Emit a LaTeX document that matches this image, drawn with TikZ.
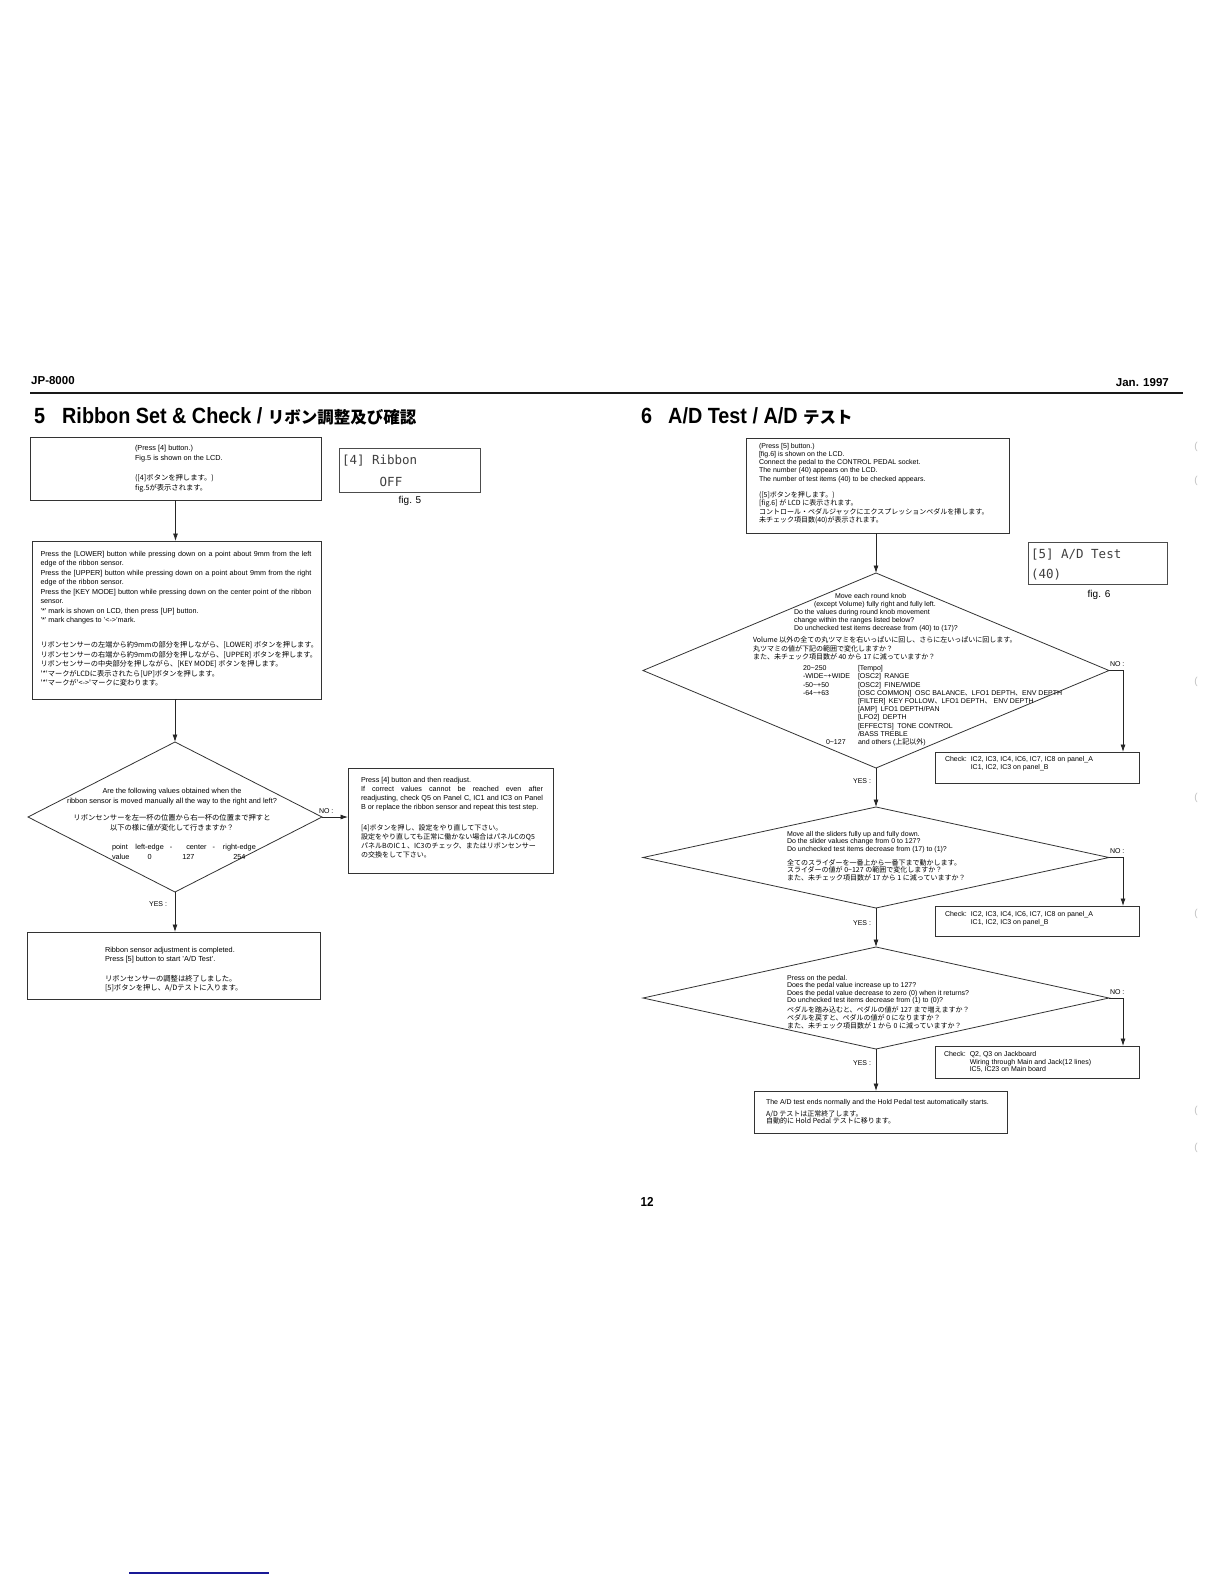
\documentclass[tikz,border=0pt]{standalone}
\usepackage{fontspec}
\setmainfont{Liberation Sans}
\newfontfamily\jpf{Noto Sans CJK JP}
\newfontfamily\hdfont{Liberation Sans}[FakeStretch=0.9]
\newfontfamily\lcdfont{DejaVu Sans Mono}
\usetikzlibrary{shapes.geometric,arrows.meta}
\begin{document}
\begin{tikzpicture}[x=1pt,y=-1pt,
  box/.style={draw=black!80, line width=0.8pt, inner sep=0pt, outer sep=0pt, anchor=north west},
  dia/.style={diamond, draw=black!80, line width=0.8pt, inner sep=0pt, outer sep=0pt},
  lcdbox/.style={draw=black!70, line width=0.8pt, inner sep=0pt, outer sep=0pt, anchor=north west},
  txtL/.style={inner sep=0pt, outer sep=0pt, anchor=north west, align=left, font=\fontsize{7.3}{10}\selectfont},
  txtR/.style={inner sep=0pt, outer sep=0pt, anchor=north west, align=left, font=\fontsize{7}{8.3}\selectfont},
  lbl/.style={inner sep=0pt, outer sep=0pt, font=\fontsize{7}{8}\selectfont},
  lcdtxt/.style={inner sep=0pt, outer sep=0pt, anchor=west, text=black!75, font=\lcdfont\fontsize{12.5}{13}\selectfont},
  ttl/.style={anchor=west, inner sep=0pt, font=\hdfont\bfseries\fontsize{22}{24}\selectfont},
  conn/.style={draw=black!85, line width=0.8pt},
  arr/.style={conn, -{Latex[length=7.5pt,width=5pt]}},
  scanmark/.style={inner sep=0pt, text=black!25, font=\fontsize{10}{10}\selectfont}
]
\useasboundingbox (0,0) rectangle (1224,1584);
\fill[white] (0,0) rectangle (1224,1584);

% ---------- header ----------
\node[anchor=west, inner sep=0pt, font=\bfseries\fontsize{11.5}{12}\selectfont] (hdL) at (31,381) {JP-8000};
\node[anchor=east, inner sep=0pt, font=\bfseries\fontsize{11.5}{12}\selectfont] (hdR) at (1169,383) {Jan. 1997};
\coordinate (ruleL) at (30,393);
\coordinate (ruleR) at (1183,393);
\draw[line width=2.6pt, black!90] (ruleL) -- (ruleR);

\node[ttl] (t5n) at (34,416) {5};
\node[ttl] (t5) at (62,416) {Ribbon Set \& Check / {\jpf\bfseries\fontsize{16.5}{18}\selectfont リボン調整及び確認}};
\node[ttl] (t6n) at (641,416) {6};
\node[ttl] (t6) at (668,416) {A/D Test / A/D {\jpf\bfseries\fontsize{16.5}{18}\selectfont テスト}};

% ---------- left column ----------
\node[box, minimum width=291, minimum height=63] (boxA) at (30,437) {};
\node[txtL] (tA) at (135,445) {(Press [4] button.)\\Fig.5 is shown on the LCD.\\[10pt]{\jpf ([4]ボタンを押します。)}\\{\jpf fig.5が表示されます。}};

\node[lcdbox, minimum width=141, minimum height=44] (lcd5) at (339,448) {};
\node[lcdtxt] (lcd5a) at (342,461) {[4] Ribbon};
\node[lcdtxt, anchor=center] (lcd5b) at (391,482) {OFF};
\node[inner sep=0pt, font=\fontsize{10}{11}\selectfont] (fig5) at (410,501) {fig. 5};

\node[box, minimum width=289, minimum height=158] (boxB) at (32,541) {};
\node[txtL, font=\fontsize{7.2}{9.5}\selectfont] (tB) at (40.5,551) {%
\makebox[271pt][s]{Press the [LOWER] button while pressing down on a point about 9mm from the left}\\
edge of the ribbon sensor.\\
\makebox[271pt][s]{Press the [UPPER] button while pressing down on a point about 9mm from the right}\\
edge of the ribbon sensor.\\
\makebox[271pt][s]{Press the [KEY MODE] button while pressing down on the center point of the ribbon}\\
sensor.\\
'*' mark is shown on LCD, then press [UP] button.\\
'*' mark changes to '<->'mark.\\[15.5pt]
{\jpf リボンセンサーの左端から約9mmの部分を押しながら、[LOWER] ボタンを押します。}\\
{\jpf リボンセンサーの右端から約9mmの部分を押しながら、[UPPER] ボタンを押します。}\\
{\jpf リボンセンサーの中央部分を押しながら、[KEY MODE] ボタンを押します。}\\
{\jpf '*'マークがLCDに表示されたら[UP]ボタンを押します。}\\
{\jpf '*'マークが'<->'マークに変わります。}};

\node[dia, minimum width=294, minimum height=150] (d1) at (175,817) {};
\node[lbl, anchor=north, align=center, font=\fontsize{7.3}{10}\selectfont] (d1t) at (172,788) {%
Are the following values obtained when the\\
ribbon sensor is moved manually all the way to the right and left?\\[7pt]
{\jpf リボンセンサーを左一杯の位置から右一杯の位置まで押すと}\\
{\jpf 以下の様に値が変化して行きますか？}};
\node[lbl, anchor=north west, font=\fontsize{7.3}{10.5}\selectfont] (d1tab) at (112,842) {%
\begin{tabular}{@{}l@{\hspace{6pt}}c@{\hspace{6pt}}c@{\hspace{14pt}}c@{\hspace{6pt}}c@{\hspace{8pt}}c@{}}
point & left-edge & - & center & - & right-edge\\
value & 0 & & \hspace*{-16pt}127 & & 254
\end{tabular}};

\node[lbl, anchor=south west] (no1) at (319,814) {NO :};
\node[box, minimum width=205, minimum height=105] (boxC) at (348,768) {};
\node[txtL, font=\fontsize{7.2}{9}\selectfont] (tC) at (361,777) {%
Press [4] button and then readjust.\\
\makebox[182pt][s]{If correct values cannot be reached even after}\\
\makebox[182pt][s]{readjusting, check Q5 on Panel C, IC1 and IC3 on Panel}\\
B or replace the ribbon sensor and repeat this test step.\\[12pt]
{\jpf\fontsize{7}{9}\selectfont [4]ボタンを押し、設定をやり直して下さい。}\\
{\jpf\fontsize{7}{9}\selectfont 設定をやり直しても正常に働かない場合はパネルCのQ5}\\
{\jpf\fontsize{7}{9}\selectfont パネルBのIC１、IC3のチェック、またはリボンセンサー}\\
{\jpf\fontsize{7}{9}\selectfont の交換をして下さい。}};

\node[lbl, anchor=east] (yes1) at (167,904) {YES :};
\node[box, minimum width=293, minimum height=67] (boxD) at (27,932) {};
\node[txtL, font=\fontsize{7.3}{9.5}\selectfont] (tD) at (105,947) {%
Ribbon sensor adjustment is completed.\\
Press [5] button to start 'A/D Test'.\\[10pt]
{\jpf リボンセンサーの調整は終了しました。}\\
{\jpf [5]ボタンを押し、A/Dテストに入ります。}};

\draw[arr] (boxA.south) -- (boxA.south |- boxB.north);
\draw[arr] (boxB.south) -- (boxB.south -| d1.north) -- (d1.north);
\draw[arr] (d1.east) -- (d1.east -| boxC.west);
\draw[arr] (d1.south) -- (d1.south |- boxD.north);

% ---------- right column ----------
\node[box, minimum width=263, minimum height=95] (boxE) at (746,438) {};
\node[txtR] (tE) at (759,443) {%
(Press [5] button.)\\
\relax [fig.6] is shown on the LCD.\\
Connect the pedal to the CONTROL PEDAL socket.\\
The number (40) appears on the LCD.\\
The number of test items (40) to be checked appears.\\[8pt]
{\jpf ([5]ボタンを押します。)}\\
{\jpf [fig.6] が LCD に表示されます。}\\
{\jpf コントロール・ペダルジャックにエクスプレッションペダルを挿します。}\\
{\jpf 未チェック項目数(40)が表示されます。}};

\node[lcdbox, minimum width=139, minimum height=42] (lcd6) at (1028,542) {};
\node[lcdtxt] (lcd6a) at (1031,555) {[5] A/D Test};
\node[lcdtxt] (lcd6b) at (1031,575) {(40)};
\node[inner sep=0pt, font=\fontsize{10}{11}\selectfont] (fig6) at (1099,595) {fig. 6};

\node[dia, minimum width=466, minimum height=195] (d2) at (876,670.5) {};
\node[txtR, font=\fontsize{7}{8.1}\selectfont] (d2t) at (794,593) {%
\hspace*{41pt}Move each round knob\\
\hspace*{20pt}(except Volume) fully right and fully left.\\
Do the values during round knob movement\\
change within the ranges listed below?\\
Do unchecked test items decrease from (40) to (17)?};
\node[txtR, font=\jpf\fontsize{7}{8.4}\selectfont] (d2j) at (753,637) {%
Volume 以外の全ての丸ツマミを右いっぱいに回し、さらに左いっぱいに回します。\\
丸ツマミの値が下記の範囲で変化しますか？\\
また、未チェック項目数が 40 から 17 に減っていますか？};
\node[txtR, font=\fontsize{7}{8.2}\selectfont] (d2tab) at (803,665) {%
\begin{tabular}{@{}p{55pt}@{}l@{}}
20\textasciitilde 250 & [Tempo]\\
-WIDE\textasciitilde +WIDE & [OSC2]\enspace RANGE\\
-50\textasciitilde +50 & [OSC2]\enspace FINE/WIDE\\
-64\textasciitilde +63 & [OSC COMMON]\enspace OSC BALANCE\smash{{\jpf 、}}LFO1 DEPTH\smash{{\jpf 、}}ENV DEPTH\\
 & [FILTER]\enspace KEY FOLLOW\smash{{\jpf 、}}LFO1 DEPTH\smash{{\jpf 、}} ENV DEPTH\\
 & [AMP]\enspace LFO1 DEPTH/PAN\\
 & [LFO2]\enspace DEPTH\\
 & [EFFECTS]\enspace TONE CONTROL\\
 & /BASS TREBLE\\
\hspace*{23pt}0\textasciitilde 127 & and others (\smash{{\jpf 上記以外}})
\end{tabular}};

\node[lbl, anchor=south west] (no2) at (1110,667) {NO :};
\coordinate (no2c) at (1123,670.5);
\node[box, minimum width=204, minimum height=31] (chk1) at (935,752) {};
\node[txtR, font=\fontsize{7}{8}\selectfont] (chk1t) at (945,755.5) {%
\begin{tabular}{@{}l@{\hspace{4pt}}l@{}}
Check: & IC2, IC3, IC4, IC6, IC7, IC8 on panel\_A\\
 & IC1, IC2, IC3 on panel\_B
\end{tabular}};
\node[lbl, anchor=east] (yes2) at (871,781) {YES :};

\node[dia, minimum width=466, minimum height=101] (d3) at (876,857.5) {};
\node[txtR, font=\fontsize{7}{7.7}\selectfont] (d3t) at (787,831) {%
Move all the sliders fully up and fully down.\\
Do the slider values change from 0 to 127?\\
Do unchecked test items decrease from (17) to (1)?\\[6pt]
{\jpf 全てのスライダーを一番上から一番下まで動かします。}\\
{\jpf スライダーの値が 0\textasciitilde 127 の範囲で変化しますか？}\\
{\jpf また、未チェック項目数が 17 から 1 に減っていますか？}};
\node[lbl, anchor=south west] (no3) at (1110,854) {NO :};
\coordinate (no3c) at (1123,857.5);
\node[box, minimum width=204, minimum height=30] (chk2) at (935,906) {};
\node[txtR, font=\fontsize{7}{8}\selectfont] (chk2t) at (945,910.5) {%
\begin{tabular}{@{}l@{\hspace{4pt}}l@{}}
Check: & IC2, IC3, IC4, IC6, IC7, IC8 on panel\_A\\
 & IC1, IC2, IC3 on panel\_B
\end{tabular}};
\node[lbl, anchor=east] (yes3) at (871,923) {YES :};

\node[dia, minimum width=466, minimum height=102] (d4) at (876,998) {};
\node[txtR, font=\fontsize{7}{7.6}\selectfont] (d4t) at (787,975) {%
Press on the pedal.\\
Does the pedal value increase up to 127?\\
Does the pedal value decrease to zero (0) when it returns?\\
Do unchecked test items decrease from (1) to (0)?\\[2.5pt]
{\jpf ペダルを踏み込むと、ペダルの値が 127 まで増えますか？}\\
{\jpf ペダルを戻すと、ペダルの値が 0 になりますか？}\\
{\jpf また、未チェック項目数が 1 から 0 に減っていますか？}};
\node[lbl, anchor=south west] (no4) at (1110,995) {NO :};
\coordinate (no4c) at (1123,998);
\node[box, minimum width=204, minimum height=32] (chk3) at (935,1046) {};
\node[txtR, font=\fontsize{7}{7.7}\selectfont] (chk3t) at (944,1051) {%
\begin{tabular}{@{}l@{\hspace{4pt}}l@{}}
Check: & Q2, Q3 on Jackboard\\
 & Wiring through Main and Jack(12 lines)\\
 & IC5, IC23 on Main board
\end{tabular}};
\node[lbl, anchor=east] (yes4) at (871,1063) {YES :};

\node[box, minimum width=253, minimum height=42] (boxF) at (754,1091) {};
\node[txtR, font=\fontsize{7}{7.5}\selectfont] (tF) at (766,1099) {%
The A/D test ends normally and the Hold Pedal test automatically starts.\\[4.5pt]
{\jpf A/D テストは正常終了します。}\\
{\jpf 自動的に Hold Pedal テストに移ります。}};

\draw[arr] (d2.north |- boxE.south) -- (d2.north);
\draw[arr] (d2.east) -- (no2c) -- (no2c |- chk1.north);
\draw[arr] (d2.south) -- (d3.north);
\draw[arr] (d3.east) -- (no3c) -- (no3c |- chk2.north);
\draw[arr] (d3.south) -- (d4.north);
\draw[arr] (d4.east) -- (no4c) -- (no4c |- chk3.north);
\draw[arr] (d4.south) -- (d4.south |- boxF.north);

% ---------- footer ----------
\node[inner sep=0pt, font=\hdfont\bfseries\fontsize{13}{14}\selectfont] (pg) at (647,1202) {12};
\coordinate (blueL) at (129,1573);
\coordinate (blueR) at (269,1573);
\draw[line width=1.5pt, color={rgb,255:red,25;green,25;blue,150}] (blueL) -- (blueR);

% faint scan marks at the right edge
\node[scanmark] (sm1) at (1196,447) {(};
\node[scanmark] (sm2) at (1196,481) {(};
\node[scanmark] (sm3) at (1196,682) {(};
\node[scanmark] (sm4) at (1196,798) {(};
\node[scanmark] (sm5) at (1196,914) {(};
\node[scanmark] (sm6) at (1196,1111) {(};
\node[scanmark] (sm7) at (1196,1148) {(};
\end{tikzpicture}
\end{document}
